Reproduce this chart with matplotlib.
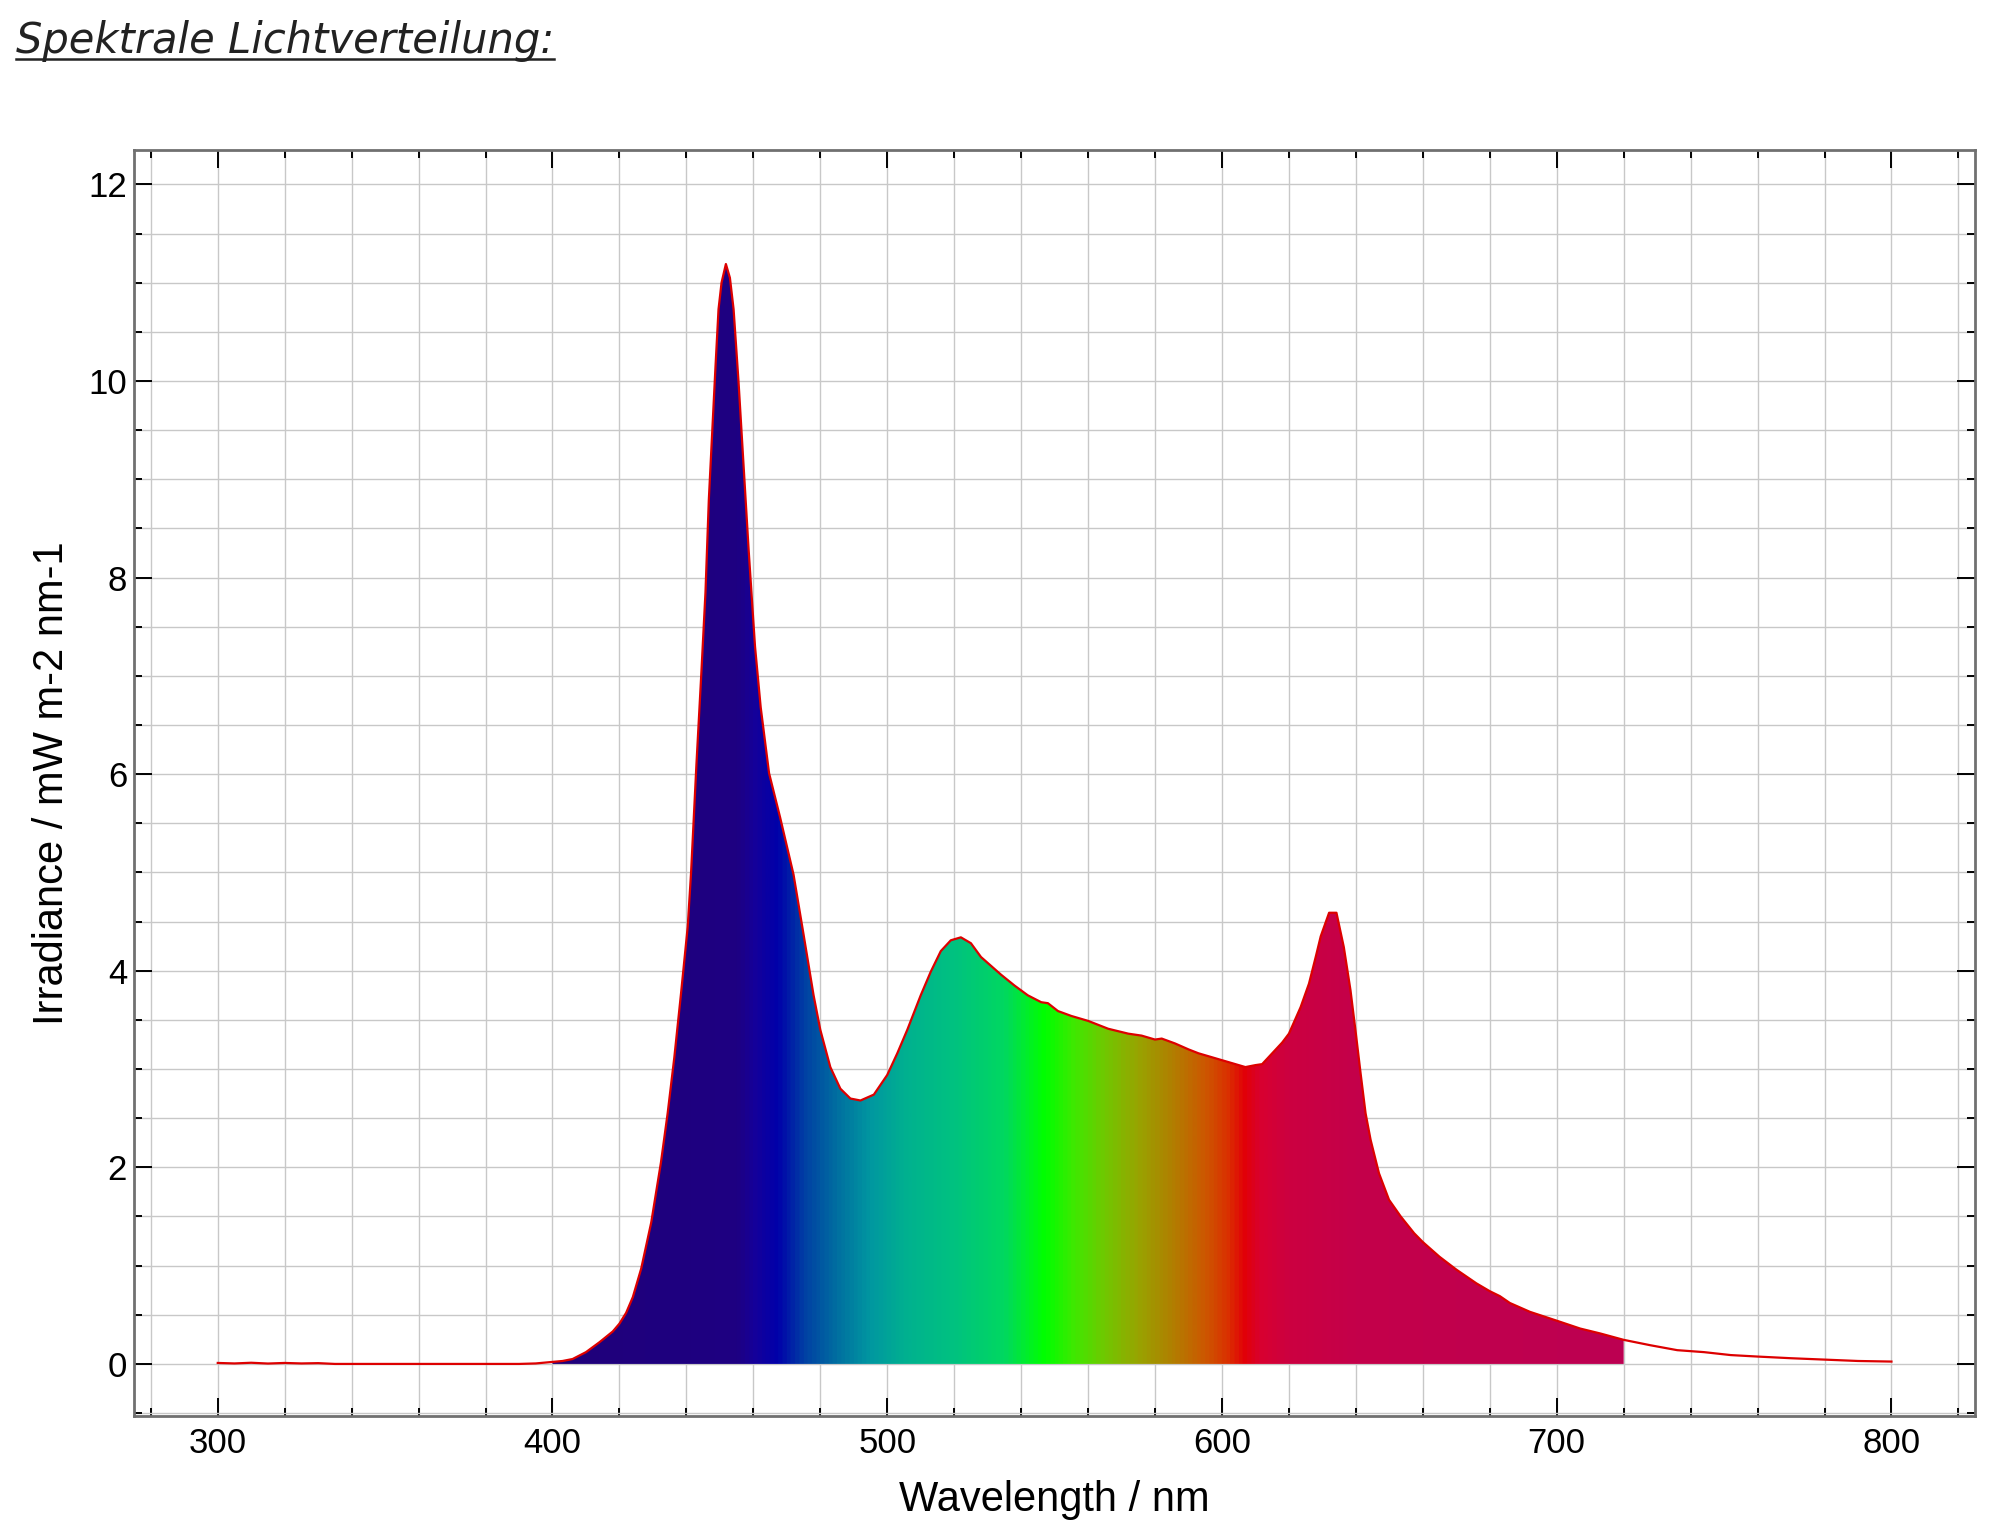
import numpy as np
import matplotlib
matplotlib.use("Agg")
import matplotlib.pyplot as plt
from matplotlib.colors import LinearSegmentedColormap
from matplotlib.ticker import MultipleLocator
from matplotlib.lines import Line2D

# spectrum (nm, mW m-2 nm-1)
wavelength = [300, 305, 310, 315, 320, 325, 330, 335, 340, 350, 360, 370, 380, 390, 395,
              400, 403, 406, 410, 414, 418, 420, 422, 424, 426.5, 429.5, 432.4, 434.4, 436.4,
              438.4, 440.4, 441.4, 443, 444.5, 445.7, 446.7, 447.7, 448.7, 449.6, 450.5, 451.8,
              453, 454.1, 455.6, 457.1, 458.6, 459.6, 460.5, 462.2, 464.7, 468, 472, 475, 478,
              480, 483, 486, 489, 492, 496, 500, 503, 506, 510, 513, 516, 519, 522, 525,
              528, 530, 534, 538, 542, 546, 548, 551, 555, 560, 566, 572, 576, 580, 582,
              586, 590, 593, 597, 600, 604, 607, 610, 612, 615, 618, 620, 623.5, 626, 628,
              629.5, 632, 634.2, 636.4, 638.4, 640, 641.4, 642.9, 644.4, 646.9, 649.9, 653.4,
              657.4, 660, 665, 670, 676, 680, 683, 686, 692, 700, 707, 713, 720, 728, 736,
              744, 752, 760, 770, 780, 790, 800]
irradiance = [0.01, 0.005, 0.012, 0.004, 0.01, 0.005, 0.008, 0.0, 0.0, 0.0, 0.0, 0.0, 0.0, 0.0, 0.005,
              0.02, 0.03, 0.05, 0.12, 0.22, 0.33, 0.41, 0.52, 0.68, 0.97, 1.44, 2.05, 2.55, 3.12,
              3.77, 4.45, 5.0, 6.1, 7.05, 7.85, 8.79, 9.48, 10.15, 10.73, 11.0, 11.19,
              11.05, 10.73, 9.98, 9.13, 8.28, 7.77, 7.3, 6.68, 6.01, 5.56, 4.98, 4.37, 3.75,
              3.40, 3.02, 2.80, 2.70, 2.68, 2.74, 2.94, 3.16, 3.40, 3.75, 3.99, 4.2, 4.31, 4.34, 4.28,
              4.14, 4.08, 3.96, 3.85, 3.75, 3.68, 3.67, 3.59, 3.54, 3.49, 3.41, 3.36, 3.34, 3.30, 3.31,
              3.26, 3.20, 3.16, 3.12, 3.09, 3.05, 3.02, 3.04, 3.05, 3.16, 3.27, 3.36, 3.63, 3.87, 4.14,
              4.35, 4.59, 4.59, 4.24, 3.80, 3.36, 2.96, 2.55, 2.28, 1.94, 1.67, 1.50,
              1.33, 1.24, 1.09, 0.96, 0.82, 0.74, 0.69, 0.62, 0.53, 0.44, 0.36, 0.31, 0.245, 0.19, 0.14,
              0.12, 0.09, 0.075, 0.058, 0.044, 0.03, 0.024]

# spectral colours under the curve
color_nm = [400, 455, 460, 467, 475, 485, 495, 505, 520, 535, 547, 556, 565, 575,
            585, 595, 602, 607, 612, 620, 640, 720]
color_hex = ["#20007a", "#1e0082", "#15009a", "#0000aa", "#0040a4", "#0070a0", "#0098a0",
             "#00b090", "#00c280", "#00d860", "#00ff00", "#40e800", "#70c800", "#98a400",
             "#b08000", "#cc5800", "#da3000", "#e20008", "#d80030", "#cc0040", "#c4004a", "#bc0052"]
fill_start, fill_end = 400, 720

wl = np.array(wavelength)
irr = np.array(irradiance)

plt.rcParams['font.family'] = ['Liberation Sans', 'DejaVu Sans']

fig = plt.figure(figsize=(20.04, 15.32), dpi=100)
ax = fig.add_axes([0.0669, 0.0757, 0.9187, 0.8264])

# gradient clipped to the area under the curve
stops = [(c - fill_start) / (fill_end - fill_start) for c in color_nm]
cmap = LinearSegmentedColormap.from_list("spec", list(zip(stops, color_hex)))
m = (wl >= fill_start) & (wl <= fill_end)
poly = ax.fill_between(wl[m], 0, irr[m], facecolor="none", edgecolor="none")
grad = np.linspace(0, 1, 1200).reshape(1, -1)
im = ax.imshow(grad, cmap=cmap, extent=[fill_start, fill_end, 0, 12], aspect="auto",
               interpolation="bilinear", zorder=2)
im.set_clip_path(poly.get_paths()[0], ax.transData)

ax.plot(wl, irr, color="#dd0000", lw=1.6, zorder=3)

ax.set_xlim(275, 825)
ax.set_ylim(-0.53, 12.35)
ax.xaxis.set_major_locator(MultipleLocator(100))
ax.xaxis.set_minor_locator(MultipleLocator(20))
ax.yaxis.set_major_locator(MultipleLocator(2))
ax.yaxis.set_minor_locator(MultipleLocator(0.5))
ax.grid(which="both", color="#c8c8c8", lw=1.0, zorder=0)
ax.set_axisbelow(True)

ax.tick_params(which="both", direction="in", top=True, right=True, colors="black", width=1.4)
ax.tick_params(which="major", length=13, labelsize=25, pad=8)
ax.tick_params(which="minor", length=6)
ax.tick_params(axis="y", pad=5)
for s in ax.spines.values():
    s.set_color("#707070")
    s.set_linewidth(2)

ax.set_xlabel("Wavelength / nm", fontsize=30, labelpad=14)
ax.set_ylabel("Irradiance / mW m-2 nm-1", fontsize=30, labelpad=12)

title = fig.text(0.008, 0.9654, "Spektrale Lichtverteilung:", family="DejaVu Sans",
                 style="italic", fontsize=30, color="#222222", va="baseline", ha="left")
fig.canvas.draw()
bb = title.get_window_extent().transformed(fig.transFigure.inverted())
fig.add_artist(Line2D([bb.x0, bb.x1], [0.9612, 0.9612], color="#222222", lw=1.8,
                      transform=fig.transFigure))

fig.savefig("out.png", dpi=100)
